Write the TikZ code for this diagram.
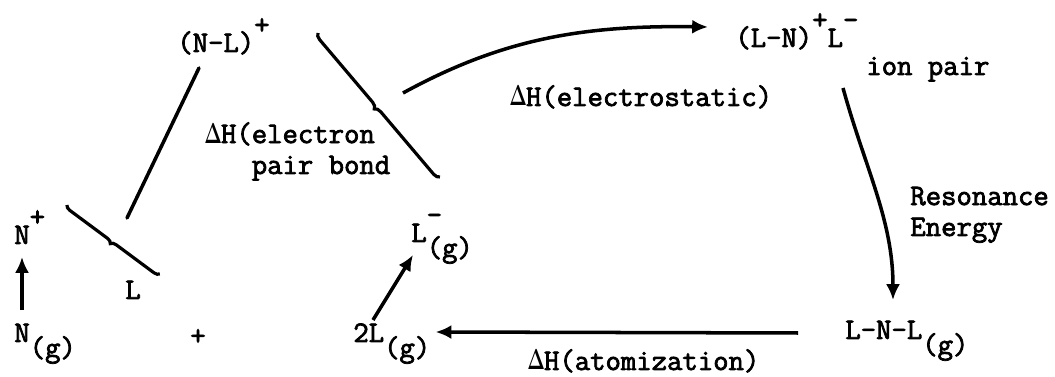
\documentclass[tikz,border=0pt]{standalone}
\usepackage{fontspec}
\setmonofont{Latin Modern Mono}[FakeBold=2.5]
\usepackage{tikz}
\usetikzlibrary{arrows.meta,decorations.pathreplacing,calc}

\newcommand{\up}[1]{\raisebox{0.6em}{#1}}
\newcommand{\gs}{\raisebox{-0.5em}{(g)}}
\newcommand{\dH}{\makebox[0.525em]{\scalebox{0.62}[0.95]{$\boldsymbol{\Delta}$}}H}
\usepackage{amsmath}

\begin{document}
\begin{tikzpicture}[x=0.02cm,y=-0.02cm,
  lbl/.style={anchor=base west, inner sep=0pt, align=left,
    font=\fontsize{17}{17.6}\selectfont\ttfamily},
  arr/.style={-{Latex[length=9pt,width=8pt]}, line width=2pt},
  bar/.style={line width=2pt, line cap=round},
  brc/.style={decorate, decoration={brace, mirror, amplitude=#1}, line width=1.8pt},
  brc/.default=3.5pt]
\useasboundingbox (0,0) rectangle (1055,377);
% species
\node[lbl] (nl) at (177,52) {(N-L)\up{+}};
\node[lbl] (lnp) at (735,47) {(L-N)\up{+}L\up{-}};
\node[lbl] (ip) at (866,75) {ion pair};
\node[lbl] (np) at (14,244) {N\up{+}};
\node[lbl] (ng) at (14,342) {N\gs};
\node[lbl] (lone) at (125,299) {L};
\node[lbl] (plus) at (190,345) {+};
\node[lbl] (tl) at (353,342) {2L\gs};
\node[lbl] (lm) at (411,242) {L\rlap{\up{-}}\gs};
\node[lbl] (lnl) at (845,339) {L-N-L\gs};
% enthalpy labels (base = last line)
\node[lbl] (ep) at (205,174) {\dH(electron\\\phantom{\dH(}pair bond};
\node[lbl] (es) at (510,106) {\dH(electrostatic)};
\node[lbl] (re) at (910,236) {Resonance\\Energy};
\node[lbl] (at) at (528,370) {\dH(atomization)};
% braces and their tips
\coordinate (t1) at (403,93);
\coordinate (t2) at (127,218);
\draw[brc] (318,33) -- (440,177);
\draw[brc=3pt] (67,205) -- (160,274);
\draw[bar] ([xshift=0.44cm,yshift=-0.32cm]nl.base west) -- (t2);
% cycle arrows
\draw[arr] (t1) .. controls +(97,-53) and +(-128,-2) .. ([xshift=-0.54cm,yshift=0.4cm]lnp.base west);
\draw[arr] ([xshift=-0.46cm,yshift=-0.26cm]ip.base west) .. controls +(22,80) and +(0,-80) .. ([xshift=0.96cm,yshift=0.78cm]lnl.base west);
\draw[arr] ([xshift=-0.94cm,yshift=0.12cm]lnl.base west) -- ([xshift=0.1cm,yshift=0.2cm]tl.base east);
\draw[arr] ([xshift=0.16cm,yshift=0.64cm]ng.base west) -- ([xshift=0.16cm,yshift=-0.26cm]np.base west);
\draw[arr] ([xshift=0.4cm,yshift=0.44cm]tl.base west) -- ([xshift=0.04cm,yshift=-0.26cm]lm.base west);
\end{tikzpicture}
\end{document}
